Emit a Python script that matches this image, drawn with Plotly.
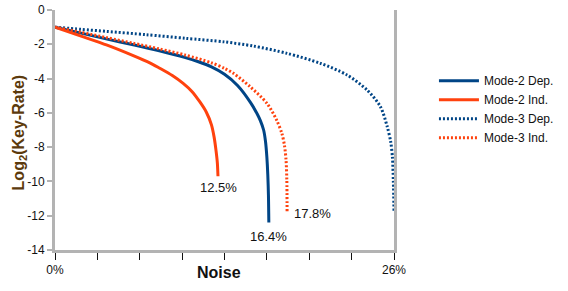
import plotly.graph_objects as go

# Noise (%) and log2(key-rate)
m2dep_x = [0, 2, 4, 6, 8, 10, 11, 12, 13, 14, 15, 15.5, 15.75, 16.0, 16.15, 16.25, 16.32, 16.37, 16.4]
m2dep_y = [-1.0, -1.35, -1.7, -2.03, -2.38, -2.78, -3.02, -3.32, -3.75, -4.4, -5.4, -6.05, -6.45, -7.0, -7.7, -8.6, -9.6, -10.8, -12.4]

m2ind_x = [0, 2, 4, 6, 7.27, 8, 9, 9.83, 10.5, 11.1, 11.6, 12.0, 12.2, 12.35, 12.45, 12.5]
m2ind_y = [-1.0, -1.52, -2.05, -2.66, -3.08, -3.38, -3.82, -4.28, -4.75, -5.35, -5.95, -6.7, -7.4, -8.2, -8.9, -9.7]

m3dep_x = [0, 2, 4, 7, 10, 13, 15.2, 17.8, 20.35, 22.4, 23.94, 24.96, 25.48, 25.75, 25.88, 25.95, 26.0]
m3dep_y = [-1.0, -1.13, -1.25, -1.44, -1.65, -1.86, -2.1, -2.53, -3.11, -3.79, -4.67, -5.64, -6.8, -7.7, -8.6, -10.0, -11.8]

m3ind_x = [0, 2, 4, 6, 8, 10, 12, 13, 13.68, 14.96, 16.25, 17.0, 17.4, 17.6, 17.72, 17.78, 17.8]
m3ind_y = [-1.0, -1.3, -1.62, -1.94, -2.27, -2.63, -3.08, -3.4, -3.69, -4.47, -5.44, -6.42, -7.2, -7.9, -8.75, -9.9, -11.8]

end_labels = ["12.5%", "16.4%", "17.8%"]
label_x = [12.55, 16.35, 18.15]
label_y = [-10.35, -13.2, -11.85]
label_anchor = ["center", "center", "left"]

x_tickvals = [0, 3.25, 6.5, 9.75, 13, 16.25, 19.5, 22.75, 26]
x_ticktext = ["0%", "", "", "", "", "", "", "", "26%"]
y_tickvals = [0, -2, -4, -6, -8, -10, -12, -14]
y_ticktext = ["0", "-2", "-4", "-6", "-8", "-10", "-12", "-14"]

BLUE = "#004586"
ORANGE = "#ff420e"
FONT = "Liberation Sans"

fig = go.Figure()
fig.add_trace(go.Scatter(x=m2dep_x, y=m2dep_y, mode="lines", name="Mode-2 Dep.",
                         line=dict(color=BLUE, width=3, shape="spline", smoothing=0.8)))
fig.add_trace(go.Scatter(x=m2ind_x, y=m2ind_y, mode="lines", name="Mode-2 Ind.",
                         line=dict(color=ORANGE, width=3, shape="spline", smoothing=0.8)))
fig.add_trace(go.Scatter(x=m3dep_x, y=m3dep_y, mode="lines", name="Mode-3 Dep.",
                         line=dict(color=BLUE, width=3, dash="2px,2px", shape="spline", smoothing=0.8)))
fig.add_trace(go.Scatter(x=m3ind_x, y=m3ind_y, mode="lines", name="Mode-3 Ind.",
                         line=dict(color=ORANGE, width=3, dash="2px,2px", shape="spline", smoothing=0.8)))

for t, x, y, a in zip(end_labels, label_x, label_y, label_anchor):
    fig.add_annotation(x=x, y=y, text=t, showarrow=False, xanchor=a, yanchor="middle",
                       font=dict(family=FONT, size=13, color="#111111"))

# axis titles as annotations
fig.add_annotation(xref="paper", yref="paper", x=0.484, y=0, yshift=-22,
                   text="<b>Noise</b>", showarrow=False, xanchor="center", yanchor="middle",
                   font=dict(family=FONT, size=16, color="#111111"))
fig.add_annotation(xref="paper", yref="paper", x=0, y=0.49, xshift=-36,
                   text="<b>Log<sub>2</sub>(Key-Rate)</b>", textangle=-90, showarrow=False,
                   xanchor="center", yanchor="middle",
                   font=dict(family=FONT, size=16, color="#5c3a0c"))

fig.update_layout(
    width=568, height=291,
    margin=dict(l=55, r=174, t=10, b=41, autoexpand=False),
    plot_bgcolor="white", paper_bgcolor="white",
    font=dict(family=FONT, size=12, color="#111111"),
    legend=dict(xref="container", yref="container", x=0.764, y=0.7725,
                xanchor="left", yanchor="top",
                font=dict(family=FONT, size=12, color="#111111"),
                tracegroupgap=0, itemwidth=40, bgcolor="rgba(0,0,0,0)"),
    showlegend=True,
)
fig.update_xaxes(range=[0, 26], tickvals=x_tickvals, ticktext=x_ticktext, automargin=False,
                 showgrid=False, zeroline=False, showline=True, linecolor="#b3b3b3",
                 linewidth=3, ticks="outside", ticklen=7, tickcolor="#111111", tickwidth=1,
                 ticklabeloverflow="allow")
fig.update_yaxes(range=[-14, 0], tickvals=y_tickvals, ticktext=y_ticktext, automargin=False,
                 showgrid=False, zeroline=False,
                 showline=True, linecolor="#b3b3b3", linewidth=3, mirror=True,
                 ticks="outside", ticklen=5, tickcolor="#b3b3b3", tickwidth=2,
                 ticklabeloverflow="allow")

fig.write_html("out.html", config={"displayModeBar": False},
               post_script="document.body.style.margin='0px';")
